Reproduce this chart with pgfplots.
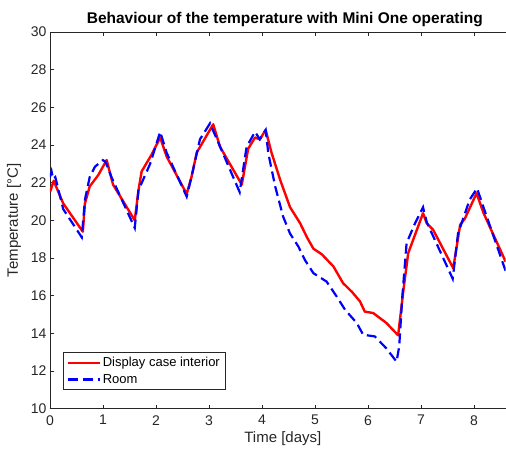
\documentclass[border=0pt]{standalone}
\usepackage{pgfplots}
\pgfplotsset{compat=1.18}
\usepackage{fontspec}
\setmainfont{Liberation Sans}
\definecolor{axgray}{gray}{0.15}
\begin{document}
\begin{tikzpicture}
\begin{axis}[
  scale only axis, width=456pt, height=377pt,
  at={(0,0)}, anchor=south west,
  xmin=0, xmax=8.6, ymin=10, ymax=30,
  xtick={0,1,...,8}, ytick={10,12,...,30},
  axis x line=box, axis y line=left,
  axis line style={-, color=axgray, line width=0.6pt},
  tick align=inside, major tick length=4pt,
  every tick/.style={axgray, line width=0.6pt},
  xtick pos=both, ytick pos=left,
  /pgf/number format/assume math mode=true,
  tick label style={font=\fontsize{14}{14}\selectfont, text=axgray},
  xticklabel style={yshift=-3pt},
  title={\fontsize{15.5}{17}\selectfont\bfseries Behaviour of the temperature with Mini One operating},
  title style={yshift=-4pt, xshift=7pt},
  xlabel={Time [days]}, ylabel={Temperature [°C]},
  label style={font=\fontsize{15}{17}\selectfont, text=axgray},
  xlabel style={xshift=5pt, yshift=0pt},
  ylabel style={yshift=3pt},
  legend style={at={(0.029,0.05)}, anchor=south west, draw=axgray, line width=0.6pt,
    font=\fontsize{13}{15}\selectfont, inner sep=3pt, row sep=2pt},
  legend cell align=left,
  legend image code/.code={\draw[#1] (0pt,0pt) -- (32pt,0pt);},
]
\addplot[red, line width=2.4pt, line join=round] coordinates {
(0,21.5)(0.07,22.1)(0.25,20.9)(0.62,19.4)
(0.66,20.9)(0.75,21.8)(0.91,22.4)(1.07,23.2)
(1.19,21.9)(1.6,20.0)
(1.67,21.6)(1.73,22.6)(1.92,23.5)(2.08,24.4)
(2.2,23.4)(2.58,21.4)
(2.67,22.3)(2.77,23.6)(3.08,25.1)
(3.21,23.9)(3.62,21.9)
(3.74,23.8)(3.87,24.4)(3.96,24.3)(4.07,24.8)
(4.18,23.6)(4.35,22.1)(4.53,20.7)(4.72,19.85)(4.85,19.1)(4.97,18.5)(5.13,18.2)
(5.35,17.55)(5.53,16.67)(5.7,16.2)(5.85,15.7)(5.94,15.16)(6.1,15.08)(6.35,14.55)(6.57,13.9)
(6.67,16.3)(6.76,18.26)(7.04,20.38)(7.11,19.85)(7.23,19.5)(7.61,17.46)
(7.74,19.76)(7.83,20.1)(8.05,21.44)(8.18,20.4)(8.6,17.8)
};
\addlegendentry{Display case interior}
\addplot[blue, line width=2.2pt, dash pattern=on 10pt off 5pt] coordinates {
(0,22.3)(0.03,22.6)(0.06,22.2)(0.1,22.3)(0.25,20.6)(0.6,19.1)
(0.66,21.1)(0.75,22.3)(0.85,22.85)(1.0,23.2)(1.05,23.1)
(1.16,22.3)(1.6,19.6)
(1.67,21.6)(1.89,23.0)(2.08,24.7)
(2.2,23.6)(2.58,21.26)
(2.67,22.3)(2.83,24.3)(3.02,25.15)
(3.15,24.3)(3.58,21.5)
(3.71,23.9)(3.87,24.7)(3.96,24.3)(4.07,24.8)
(4.12,23.56)(4.25,21.8)(4.4,20.2)(4.53,19.3)(4.69,18.6)(4.81,17.9)(4.97,17.2)
(5.22,16.75)(5.41,15.96)(5.57,15.25)(5.79,14.55)(5.91,13.93)(6.13,13.84)(6.35,13.2)(6.54,12.5)
(6.59,13.3)(6.65,16.0)(6.73,18.8)(6.89,19.85)(7.04,20.7)
(7.11,19.9)(7.6,16.9)
(7.7,19.3)(7.92,21.1)(8.06,21.7)
(8.18,20.7)(8.6,17.3)
};
\addlegendentry{Room}
\end{axis}
\path[use as bounding box] (-50pt,-41pt) rectangle (456pt,409pt);
\end{tikzpicture}
\end{document}
